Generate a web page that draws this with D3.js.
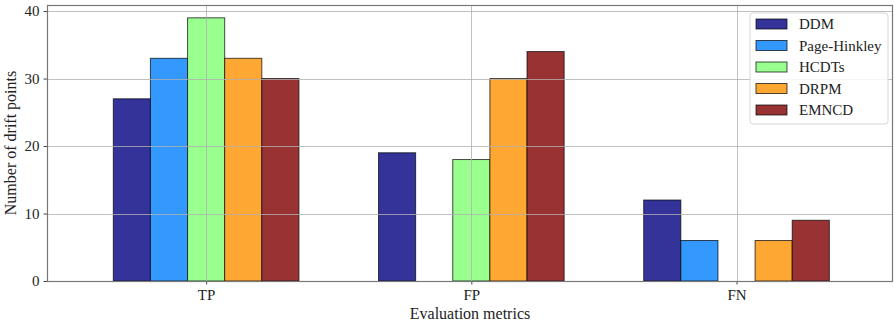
<!DOCTYPE html>
<html>
<head>
<meta charset="utf-8">
<script src="https://cdn.jsdelivr.net/npm/d3@7"></script>
<style>
  body { margin: 0; background: #fff; }
  svg text { font-family: 'Liberation Serif', 'Times New Roman', Times, 'DejaVu Serif', serif !important; fill: #222; }
</style>
</head>
<body>
<svg id="chart" width="894" height="327"></svg>
<script>
// Drift detection evaluation: counts per metric for each method
const metrics = ["TP", "FP", "FN"];
const methods = ["DDM", "Page-Hinkley", "HCDTs", "DRPM", "EMNCD"];
const colors = ["#333399", "#3399ff", "#99ff8f", "#ffa733", "#993333"];
const DDM = [27, 19, 12];
const PageHinkley = [33, 0, 6];
const HCDTs = [39, 18, 0];
const DRPM = [33, 30, 6];
const EMNCD = [30, 34, 9];
const seriesValues = [DDM, PageHinkley, HCDTs, DRPM, EMNCD];
const yTicks = [0, 10, 20, 30, 40];

const FONT = "'Liberation Serif', 'Times New Roman', Times, 'DejaVu Serif', serif";
const svg = d3.select("#chart").attr("font-family", FONT);
const margin = { left: 47, right: 1, top: 5, bottom: 46 };
const W = 894, H = 327;

const barW = 0.14;
const x = d3.scaleLinear().domain([-0.6, 2.59]).range([margin.left, W - margin.right]);
const y = d3.scaleLinear().domain([0, 40.9]).range([H - margin.bottom, margin.top]);

const plot = svg.append("g");

// bars
methods.forEach((m, i) => {
  plot.selectAll(null)
    .data(seriesValues[i])
    .enter()
    .append("rect")
    .attr("x", (d, j) => x(j + (i - 2) * barW - barW / 2))
    .attr("width", x(barW) - x(0))
    .attr("y", d => y(d))
    .attr("height", d => y(0) - y(d))
    .attr("fill", colors[i])
    .attr("stroke", "rgba(0,0,0,0.7)")
    .attr("stroke-width", 1);
});

// grid drawn over the bars
const grid = svg.append("g").attr("stroke", "rgba(176,176,176,0.8)").attr("stroke-width", 1);
yTicks.forEach(t => {
  grid.append("line")
    .attr("x1", margin.left).attr("x2", W - margin.right)
    .attr("y1", Math.round(y(t)) + 0.5).attr("y2", Math.round(y(t)) + 0.5);
});
metrics.forEach((m, j) => {
  grid.append("line")
    .attr("x1", Math.round(x(j)) + 0.5).attr("x2", Math.round(x(j)) + 0.5)
    .attr("y1", margin.top).attr("y2", H - margin.bottom);
});

// axes
const xAxis = d3.axisBottom(x).tickValues(metrics.map((m, j) => j))
  .tickFormat(j => metrics[j]).tickSize(3.5).tickPadding(5);
const yAxis = d3.axisLeft(y).tickValues(yTicks).tickSize(3.5).tickPadding(4);

const gx = svg.append("g").attr("transform", `translate(0,${H - margin.bottom})`).call(xAxis);
const gy = svg.append("g").attr("transform", `translate(${margin.left},0)`).call(yAxis);
[gx, gy].forEach(g => {
  g.attr("font-family", FONT).attr("font-size", 15);
  g.select(".domain").remove();
  g.selectAll(".tick line").attr("stroke", "#444");
  g.selectAll(".tick text").attr("fill", "#222");
});

// frame
svg.append("rect")
  .attr("x", margin.left + 0.5).attr("y", margin.top + 0.5)
  .attr("width", W - margin.right - margin.left - 1)
  .attr("height", H - margin.bottom - margin.top)
  .attr("fill", "none").attr("stroke", "#777").attr("stroke-width", 1.2);

// axis titles
svg.append("text")
  .attr("x", (margin.left + W - margin.right) / 2).attr("y", 319)
  .attr("text-anchor", "middle").attr("font-size", 16)
  .text("Evaluation metrics");
svg.append("text")
  .attr("transform", `translate(16,${(margin.top + H - margin.bottom) / 2}) rotate(-90)`)
  .attr("text-anchor", "middle").attr("font-size", 16)
  .text("Number of drift points");

// legend
const lg = svg.append("g").attr("transform", "translate(750,13)");
lg.append("rect").attr("width", 138).attr("height", 111).attr("rx", 3)
  .attr("fill", "rgba(255,255,255,0.85)").attr("stroke", "#d6d6d6");
methods.forEach((m, i) => {
  const row = lg.append("g").attr("transform", `translate(6,${11 + i * 21.5})`);
  row.append("rect").attr("x", 0).attr("y", -5).attr("width", 31).attr("height", 10)
    .attr("fill", colors[i]).attr("stroke", "rgba(0,0,0,0.7)");
  row.append("text").attr("x", 43).attr("y", 5).attr("font-size", 15).text(m);
});
</script>
</body>
</html>
